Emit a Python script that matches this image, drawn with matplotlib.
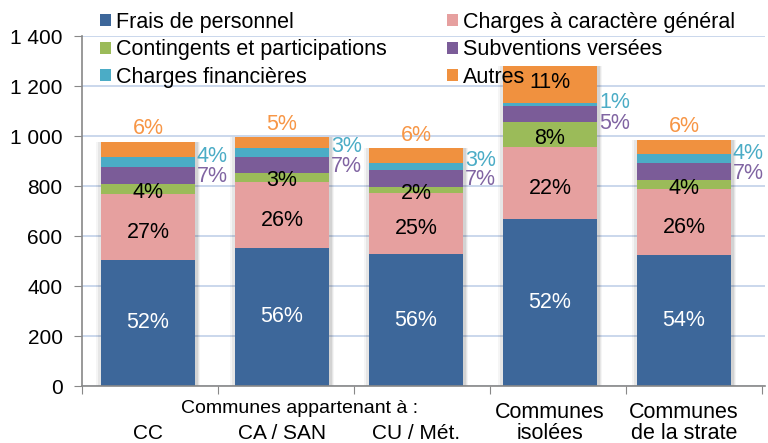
import numpy as np
import matplotlib.pyplot as plt
from matplotlib.patches import Patch

# Données (dépenses par habitant, en euros)
categories = ['CC', 'CA / SAN', 'CU / Mét.', 'Communes\nisolées', 'Communes\nde la strate']
series = ['Frais de personnel', 'Charges à caractère général', 'Contingents et participations',
          'Subventions versées', 'Charges financières', 'Autres']
frais = [504, 553, 528, 668, 524]
charges_gen = [264, 264, 245, 287, 263]
contingents = [39, 35, 24, 102, 37]
subventions = [70, 64, 67, 64, 67]
financieres = [38, 36, 29, 12, 37]
autres = [62, 44, 58, 147, 56]

pct_frais = ['52%', '56%', '56%', '52%', '54%']
pct_gen = ['27%', '26%', '25%', '22%', '26%']
pct_cont = ['4%', '3%', '2%', '8%', '4%']
pct_subv = ['7%', '7%', '7%', '5%', '7%']
pct_fin = ['4%', '3%', '3%', '1%', '4%']
pct_autres = ['6%', '5%', '6%', '11%', '6%']

couleurs = ['#3D679A', '#E6A09F', '#9BBB59', '#7B5C98', '#4BACC6', '#F0913F']

plt.rcParams['font.family'] = ['Liberation Sans', 'DejaVu Sans']

fig = plt.figure(figsize=(7.68, 4.43), dpi=100)
ax = fig.add_axes([82 / 768, 1 - 386 / 443, (765 - 82) / 768, 350 / 443])

x = np.arange(len(categories))
largeur = 0.70
valeurs = [frais, charges_gen, contingents, subventions, financieres, autres]
totaux = np.sum(valeurs, axis=0)

# ombre douce derrière les barres
for dx, w, a in [(0.0, 0.78, 0.04), (0.005, 0.75, 0.06), (0.01, 0.725, 0.08)]:
    ax.bar(x + dx, totaux + 5, bottom=-5, width=w, color='black', alpha=a, zorder=1, linewidth=0)

bas = np.zeros(len(categories))
for vals, c in zip(valeurs, couleurs):
    ax.bar(x, vals, bottom=bas, width=largeur, color=c, zorder=2, linewidth=0)
    bas += np.array(vals)

fs = 15.5
for i in range(len(categories)):
    y0 = 0
    ax.text(x[i], frais[i] / 2, pct_frais[i], ha='center', va='center', color='white', fontsize=fs, zorder=3)
    y0 += frais[i]
    ax.text(x[i], y0 + charges_gen[i] / 2 - 22, pct_gen[i], ha='center', va='center', color='black', fontsize=fs, zorder=3)
    y0 += charges_gen[i]
    ax.text(x[i], y0 + contingents[i] / 2 - 14, pct_cont[i], ha='center', va='center', color='black', fontsize=fs, zorder=3)
    y0 += contingents[i]
    ym_subv = y0 + subventions[i] / 2
    y0 += subventions[i]
    ym_fin = y0 + financieres[i] / 2
    y0 += financieres[i]
    xr = x[i] + largeur / 2 + 0.015
    if i == 3:
        ax.text(xr, ym_subv - 40, pct_subv[i], ha='left', va='center', color='#8064A2', fontsize=fs, zorder=3)
        ax.text(xr, ym_fin + 5, pct_fin[i], ha='left', va='center', color='#4BACC6', fontsize=fs, zorder=3)
        ax.text(x[i], y0 + autres[i] / 2 + 8, pct_autres[i], ha='center', va='center', color='black', fontsize=fs, zorder=3)
    else:
        ax.text(xr, ym_subv - 6, pct_subv[i], ha='left', va='center', color='#8064A2', fontsize=fs, zorder=3)
        ax.text(xr, ym_fin + 22, pct_fin[i], ha='left', va='center', color='#4BACC6', fontsize=fs, zorder=3)
        ax.text(x[i], y0 + autres[i] + 10, pct_autres[i], ha='center', va='bottom', color='#F79646', fontsize=fs, zorder=3)

ax.set_ylim(0, 1400)
ax.set_xlim(-0.4925, 4.604)
ax.set_yticks(np.arange(0, 1401, 200))
ax.set_yticklabels(['0', '200', '400', '600', '800', '1 000', '1 200', '1 400'], fontsize=15)
ax.yaxis.grid(True, color='#C6D4EA', linewidth=1.3, zorder=0)
ax.set_axisbelow(True)
ax.set_xticks(np.arange(6) * 1.015 - 0.49)
ax.set_xticklabels([])
ax.tick_params(axis='x', direction='out', length=6, color='#888888')
ax.tick_params(axis='y', direction='out', length=6, color='#888888', pad=8)
for s in ['top', 'right']:
    ax.spines[s].set_visible(False)
for s in ['left', 'bottom']:
    ax.spines[s].set_color('#888888')
    ax.spines[s].set_linewidth(1.2)

ax.text(1.13, -0.063, 'Communes appartenant à :', transform=ax.get_xaxis_transform(),
        ha='center', va='center', fontsize=14)
for i, lab in enumerate(categories):
    if '\n' in lab:
        ax.text(x[i], -0.105, lab, transform=ax.get_xaxis_transform(), ha='center', va='center',
                fontsize=15.5, linespacing=1.0)
    else:
        ax.text(x[i], -0.135, lab, transform=ax.get_xaxis_transform(), ha='center', va='center',
                fontsize=15)

# légende sur deux colonnes
ordre = [0, 2, 4, 1, 3, 5]
handles = [Patch(facecolor=couleurs[k], edgecolor='none') for k in ordre]
labels = [series[k] for k in ordre]
fig.legend(handles, labels, ncol=2, loc='upper left', bbox_to_anchor=(88 / 768, 1.0),
           frameon=False, fontsize=15.5, handlelength=0.5, handleheight=0.5, handletextpad=0.25,
           columnspacing=2.8, labelspacing=0.3, borderaxespad=0.15)

fig.savefig('out.png', dpi=100)
